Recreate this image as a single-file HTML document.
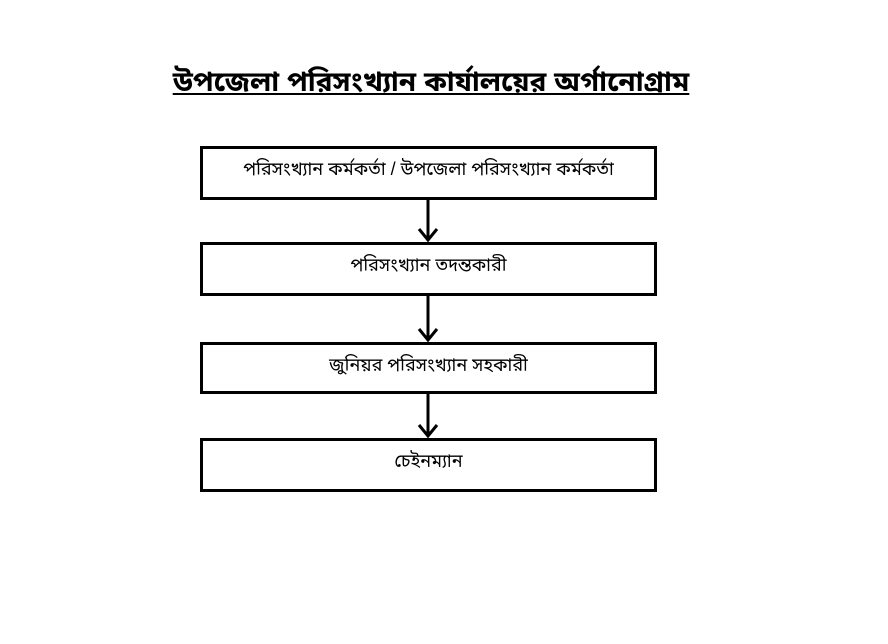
<!DOCTYPE html>
<html><head><meta charset="utf-8"><style>
body{margin:0;width:888px;height:644px;background:#fff;position:relative;overflow:hidden;font-family:"Liberation Sans","Noto Sans Bengali","Lohit Bengali",sans-serif;}
.t{position:absolute;left:0;width:862px;top:66px;text-align:center;font-size:28px;font-weight:bold;text-decoration:underline;color:#000;}
.b{position:absolute;left:200px;width:451px;border:3px solid #000;text-align:center;font-size:18px;color:#000;box-sizing:content-box;}
</style></head><body>
<div class="t">উপজেলা পরিসংখ্যান কার্যালয়ের অর্গানোগ্রাম</div>
<div class="b" style="top:146px;height:48px;line-height:40px">পরিসংখ্যান কর্মকর্তা / উপজেলা পরিসংখ্যান কর্মকর্তা</div>
<div class="b" style="top:242px;height:48px;line-height:40px">পরিসংখ্যান তদন্তকারী</div>
<div class="b" style="top:342px;height:46px;line-height:40px">জুনিয়র পরিসংখ্যান সহকারী</div>
<div class="b" style="top:438px;height:48px;line-height:40px">চেইনম্যান</div>
<svg width="888" height="644" style="position:absolute;left:0;top:0">
<g stroke="#000" stroke-width="3" fill="none">
<line x1="428" y1="200" x2="428" y2="240"/><polyline points="419,229 428,240 437,229"/>
<line x1="428" y1="296" x2="428" y2="340"/><polyline points="419,329 428,340 437,329"/>
<line x1="428" y1="394" x2="428" y2="436"/><polyline points="419,425 428,436 437,425"/>
</g></svg>
</body></html>
